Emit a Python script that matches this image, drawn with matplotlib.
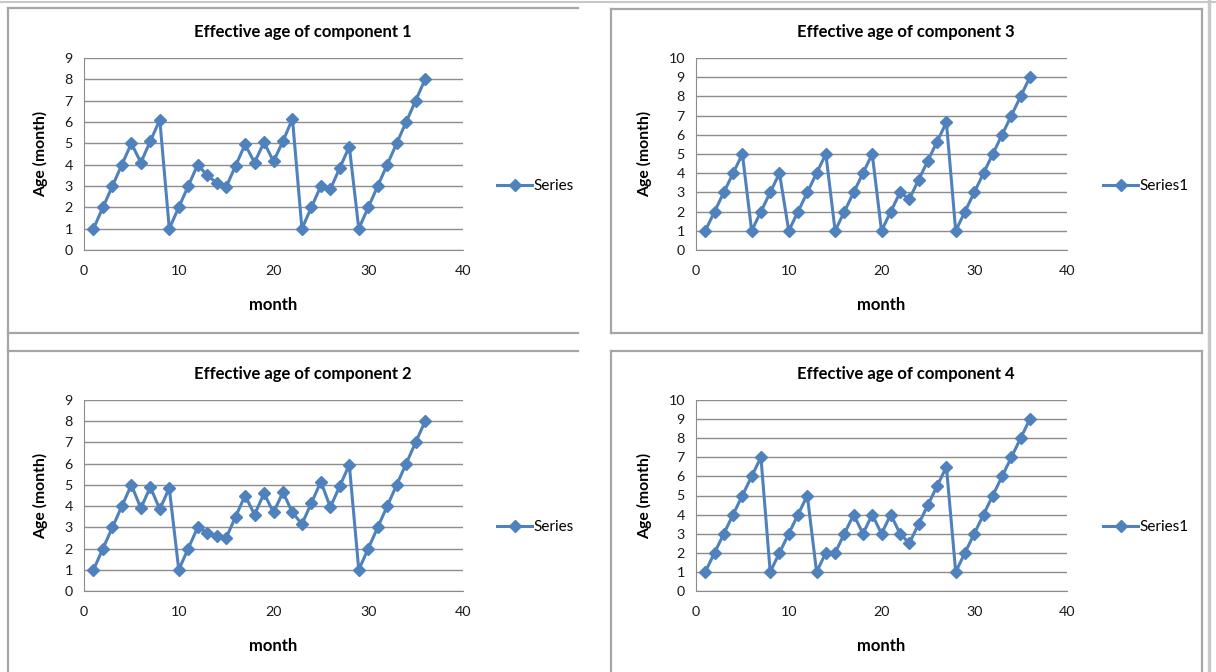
import matplotlib.pyplot as plt
from matplotlib.lines import Line2D
import numpy as np

# Dados (mes 1..36)
meses = list(range(1, 37))

idade_comp1 = [1, 2, 3, 4, 5, 4.1, 5.1, 6.1, 1, 2, 3, 4, 3.5, 3.15, 2.95, 3.95,
               4.95, 4.1, 5.05, 4.15, 5.1, 6.15, 1, 2, 3, 2.85, 3.85, 4.85, 1, 2,
               3, 4, 5, 6, 7, 8]
idade_comp2 = [1, 2, 3, 4, 5, 3.9, 4.9, 3.85, 4.85, 1, 2, 3, 2.75, 2.6, 2.5, 3.5,
               4.5, 3.6, 4.6, 3.7, 4.65, 3.7, 3.15, 4.15, 5.15, 3.95, 4.95, 5.95, 1, 2,
               3, 4, 5, 6, 7, 8]
idade_comp3 = [1, 2, 3, 4, 5, 1, 2, 3, 4, 1, 2, 3, 4, 5, 1, 2,
               3, 4, 5, 1, 2, 3, 2.65, 3.65, 4.65, 5.65, 6.65, 1, 2, 3,
               4, 5, 6, 7, 8, 9]
idade_comp4 = [1, 2, 3, 4, 5, 6, 7, 1, 2, 3, 4, 5, 1, 2, 2, 3,
               4, 3, 4, 3, 4, 3, 2.5, 3.5, 4.5, 5.5, 6.5, 1, 2, 3,
               4, 5, 6, 7, 8, 9]

titulos = ['Effective age of component 1', 'Effective age of component 3',
           'Effective age of component 2', 'Effective age of component 4']
legendas = ['Series', 'Series1', 'Series', 'Series1']
ymax_lista = [9, 10, 9, 10]

plt.rcParams['font.family'] = ['Lato', 'DejaVu Sans']

COR = '#4F81BD'
W, H = 1216, 672

fig = plt.figure(figsize=(12.16, 6.72), dpi=100, facecolor='white')


def fx(px):
    return px / W


def fy(py):
    return 1 - py / H


# Molduras dos graficos
cinza = '#A6A6A6'
molduras = [
    [(8, 8), (578, 8)], [(8, 8), (8, 672)], [(8, 333), (578, 333)], [(8, 351), (578, 351)],
    [(611, 9), (1202, 9)], [(611, 9), (611, 333)], [(1202, 9), (1202, 333)], [(611, 333), (1202, 333)],
    [(611, 351), (1202, 351)], [(611, 351), (611, 672)], [(1202, 351), (1202, 672)],
]
for (x0, y0), (x1, y1) in molduras:
    fig.add_artist(Line2D([fx(x0), fx(x1)], [fy(y0), fy(y1)], color=cinza, lw=1.6))
fig.add_artist(Line2D([fx(1209), fx(1209)], [fy(0), fy(672)], color='#C8C8C8', lw=2.5))
fig.add_artist(Line2D([fx(0), fx(1216)], [fy(2), fy(2)], color='#C8C8C8', lw=1.5))

# Posicoes dos eixos (px): x0, x1, ytopo, ybase, centro do titulo
posicoes = [(84, 463, 58, 250, 303), (696, 1067, 58, 250, 906),
            (84, 463, 400, 591, 303), (696, 1067, 400, 591, 906)]
dados = [idade_comp1, idade_comp3, idade_comp2, idade_comp4]

for i in range(4):
    x0, x1, yt, yb, xt = posicoes[i]
    ax = fig.add_axes([fx(x0), fy(yb), fx(x1 - x0), (yb - yt) / H])
    ax.plot(meses, dados[i], color=COR, lw=2.2, marker='D', markersize=6,
            label=legendas[i], zorder=3)
    ax.set_xlim(0, 40)
    ax.set_ylim(0, ymax_lista[i])
    ax.set_xticks([0, 10, 20, 30, 40])
    ax.set_yticks(range(0, ymax_lista[i] + 1))
    ax.grid(axis='y', color='#8C8C8C', lw=1)
    ax.set_axisbelow(True)
    for lado in ['top', 'right']:
        ax.spines[lado].set_visible(False)
    for lado in ['left', 'bottom']:
        ax.spines[lado].set_color('#8C8C8C')
    ax.tick_params(axis='both', length=0, labelsize=10.3, colors='#1a1a1a')
    ax.tick_params(axis='x', pad=11)
    ax.tick_params(axis='y', pad=8)
    ax.set_title(titulos[i], fontsize=12, fontweight='bold', pad=15,
                 x=(xt - x0) / (x1 - x0))
    ax.set_xlabel('month', fontsize=12, fontweight='bold', labelpad=14)
    ax.set_ylabel('Age (month)', fontsize=11.3, fontweight='bold', labelpad=12)
    lx = (497 - x0) / (x1 - x0) if i % 2 == 0 else (1103 - x0) / (x1 - x0)
    leg = ax.legend(loc='center left', bbox_to_anchor=(lx, 0.333), frameon=False,
                    fontsize=11, handlelength=2.3, handletextpad=0.1, borderaxespad=0,
                    borderpad=0)

fig.savefig('out.png', dpi=100, facecolor='white')
